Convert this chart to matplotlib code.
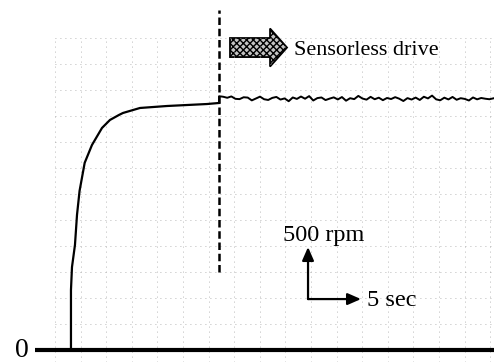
import numpy as np
import matplotlib
matplotlib.use("Agg")
import matplotlib.pyplot as plt
from matplotlib.patches import FancyArrow

# speed response: start-up with sensor, then sensorless drive
t_start = [1.56, 1.56, 1.66, 1.95, 2.15, 2.40, 2.90, 3.61, 4.59, 5.37, 6.25,
           6.64, 8.30, 10.94, 14.84, 16.02]
rpm_start = [0, 577, 798, 1010, 1300, 1530, 1800, 1971, 2135, 2212, 2260,
             2279, 2327, 2346, 2365, 2375]

t_switch = 16.02
rpm_sensorless = [2440, 2435, 2425, 2438, 2415, 2412, 2430, 2427, 2400, 2418,
                  2436, 2411, 2404, 2424, 2433, 2408, 2419, 2392, 2428, 2414,
                  2437, 2416, 2441, 2399, 2422, 2428, 2403, 2417, 2429, 2409,
                  2432, 2397, 2421, 2412, 2443, 2418, 2407, 2434, 2411, 2426,
                  2402, 2423, 2413, 2431, 2416, 2394, 2422, 2408, 2427, 2404,
                  2435, 2419, 2446, 2410, 2401, 2426, 2409, 2433, 2406, 2421,
                  2414, 2399, 2428, 2410, 2423, 2416, 2411, 2420]
t_sensorless = t_switch + 0.4 * np.arange(len(rpm_sensorless))

fig = plt.figure(figsize=(4.94, 3.62), dpi=100)
ax = fig.add_axes([0, 0, 1, 1])
ax.set_xlim(-5.37, 42.87)
ax.set_ylim(-115, 3365)
ax.set_xticks([])
ax.set_yticks([])
for s in ax.spines.values():
    s.set_visible(False)

# faint dotted scope grid
grid_t = np.arange(0, 43, 2.5)
grid_rpm = np.arange(250, 3001, 250)
ax.vlines(grid_t, -115, 3000, color="#a0a0a0", linestyle=(0, (1, 5)), linewidth=0.6)
ax.hlines(grid_rpm, 0, 42.87, color="#a0a0a0", linestyle=(0, (1, 5)), linewidth=0.6)

# baseline
ax.plot([-1.95, 42.87], [0, 0], color="black", linewidth=3, solid_capstyle="butt")
ax.text(-3.22, 0, "0", fontsize=20, family="Liberation Serif", ha="center", va="center")

# curves
ax.plot(t_start, rpm_start, color="black", linewidth=1.6)
ax.plot(np.r_[t_start[-1], t_sensorless], np.r_[rpm_start[-1], rpm_sensorless],
        color="black", linewidth=1.4)

# switch-over marker
ax.plot([t_switch, t_switch], [750, 3270], color="black", linewidth=1.8,
        linestyle=(0, (3, 1.5)))

# block arrow + label
blk = FancyArrow(17.09, 2908, 5.57, 0, width=183, head_width=366, head_length=1.66,
                 length_includes_head=True, facecolor="#c4c4c4", edgecolor="black",
                 linewidth=1.3, hatch="xxxxx")
ax.add_patch(blk)
ax.text(23.34, 2837, "Sensorless drive", fontsize=16, family="Liberation Serif",
        ha="left", va="baseline")

# scale arrows
corner = (24.71, 490)
ax.annotate("", xy=(corner[0], 990), xytext=corner,
            arrowprops=dict(arrowstyle="-|>,head_length=0.8,head_width=0.35",
                            color="black", lw=1.6, shrinkA=0, shrinkB=0))
ax.annotate("", xy=(29.88, corner[1]), xytext=corner,
            arrowprops=dict(arrowstyle="-|>,head_length=0.8,head_width=0.35",
                            color="black", lw=1.6, shrinkA=0, shrinkB=0))
ax.text(22.27, 1048, "500 rpm", fontsize=17.5, family="Liberation Serif",
        ha="left", va="baseline")
ax.text(30.47, 423, "5 sec", fontsize=17.5, family="Liberation Serif",
        ha="left", va="baseline")

fig.savefig("out.png", dpi=100)
